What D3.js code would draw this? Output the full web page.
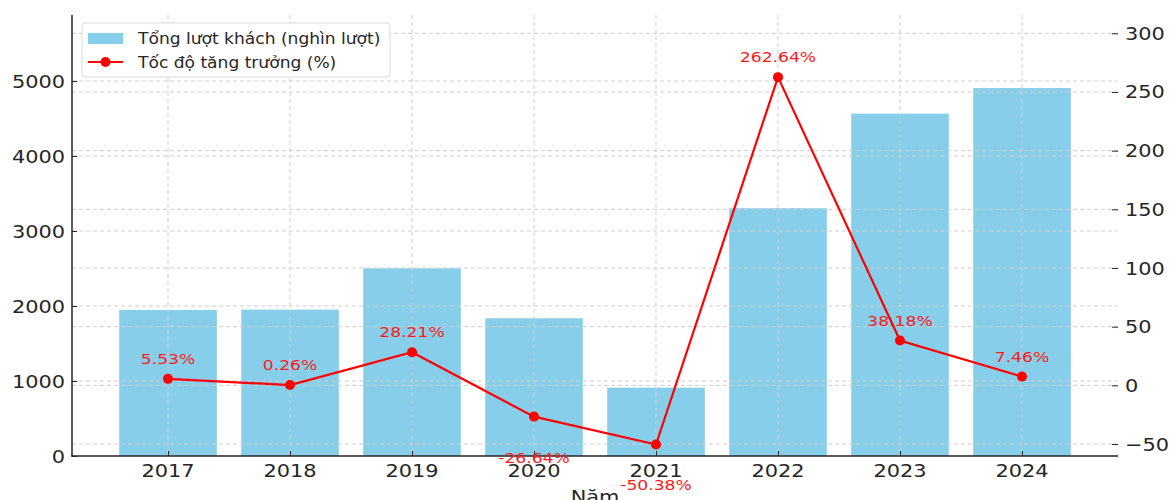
<!DOCTYPE html>
<html>
<head>
<meta charset="UTF-8">
<title>Tổng lượt khách và tốc độ tăng trưởng</title>
<script src="https://d3js.org/d3.v7.min.js"></script>
<style>
  body { margin: 0; background: #fff; }
  svg { display: block; font-family: "DejaVu Sans", sans-serif; }
  .grid line { stroke: #cfcfcf; stroke-width: 1; stroke-dasharray: 4 3; }
</style>
</head>
<body>
<script>
// data
var years = ["2017", "2018", "2019", "2020", "2021", "2022", "2023", "2024"];
var visitors = [1947, 1952, 2503, 1836, 911, 3304, 4565, 4906];   // nghìn lượt
var growth = [5.53, 0.26, 28.21, -26.64, -50.38, 262.64, 38.18, 7.46]; // %
var leftTicks = [0, 1000, 2000, 3000, 4000, 5000];
var rightTicks = [-50, 0, 50, 100, 150, 200, 250, 300];

var W = 1169, H = 500;
// plot box (note: "top" is reserved on window, so use p* names)
var pLeft = 72, pRight = 1118, pTop = 15, pBottom = 456;
var sx = 1.16; // the reference text is a little wider than tall

var svg = d3.select("body").append("svg")
  .attr("width", W).attr("height", H);

var x = d3.scalePoint().domain(years).range([pLeft, pRight]).padding(0.787);
var barW = x.step() * 0.8;
var y = d3.scaleLinear().domain([0, 5880]).range([pBottom, pTop]);
var y2 = d3.scaleLinear().domain([-60.2, 315.6]).range([pBottom, pTop]);

// text helper, stretched horizontally like the picture
function label(g, px, py, txt, size, anchor, color, stretch) {
  return g.append("text")
    .attr("transform", "translate(" + px + "," + py + ") scale(" + (stretch || sx) + ",1)")
    .attr("text-anchor", anchor)
    .attr("font-size", size)
    .attr("fill", color)
    .text(txt);
}

// bars
svg.append("g").selectAll("rect")
  .data(visitors)
  .join("rect")
    .attr("x", function(d, i) { return x(years[i]) - barW / 2; })
    .attr("width", barW)
    .attr("y", function(d) { return y(d); })
    .attr("height", function(d) { return pBottom - y(d); })
    .attr("fill", "#87ceeb");

// grid on top of bars (both y axes + x)
var grid = svg.append("g").attr("class", "grid");
grid.append("g").selectAll("line").data(leftTicks).join("line")
  .attr("x1", pLeft).attr("x2", pRight)
  .attr("y1", function(d) { return y(d); }).attr("y2", function(d) { return y(d); });
grid.append("g").selectAll("line").data(rightTicks).join("line")
  .attr("x1", pLeft).attr("x2", pRight)
  .attr("y1", function(d) { return y2(d); }).attr("y2", function(d) { return y2(d); });
grid.append("g").selectAll("line").data(years).join("line")
  .attr("x1", function(d) { return x(d); }).attr("x2", function(d) { return x(d); })
  .attr("y1", pTop).attr("y2", pBottom);

// axes
var axisColor = "#262626";
var gl = svg.append("g").attr("transform", "translate(" + pLeft + ",0)")
  .call(d3.axisLeft(y).tickValues(leftTicks).tickSize(-5).tickFormat(function(d) { return ""; }));
gl.select(".domain").remove();
gl.selectAll("line").attr("stroke", axisColor);
svg.append("line").attr("x1", pLeft).attr("x2", pLeft).attr("y1", pTop).attr("y2", pBottom + 0.5)
  .attr("stroke", axisColor).attr("stroke-width", 1.5);

var gr = svg.append("g").attr("transform", "translate(" + pRight + ",0)")
  .call(d3.axisRight(y2).tickValues(rightTicks).tickSize(-6).tickFormat(function(d) { return ""; }));
gr.select(".domain").remove();
gr.selectAll("line").attr("stroke", axisColor);

var gb = svg.append("g").attr("transform", "translate(0," + pBottom + ")")
  .call(d3.axisBottom(x).tickSize(-5).tickFormat(function(d) { return ""; }));
gb.select(".domain").remove();
gb.selectAll("line").attr("stroke", axisColor);
svg.append("line").attr("x1", pLeft - 0.75).attr("x2", pRight).attr("y1", pBottom).attr("y2", pBottom)
  .attr("stroke", axisColor).attr("stroke-width", 1.5);

var tl = svg.append("g");
leftTicks.forEach(function(d) { label(tl, pLeft - 7, y(d) + 6.5, d, 18, "end", axisColor); });
rightTicks.forEach(function(d) {
  label(tl, pRight + 7, y2(d) + 6.5, d < 0 ? "\u2212" + Math.abs(d) : d, 18, "start", axisColor);
});
years.forEach(function(d) { label(tl, x(d), pBottom + 21, d, 18, "middle", axisColor); });
label(tl, (pLeft + pRight) / 2, 503, "Năm", 18, "middle", axisColor);

// growth line
var line = d3.line()
  .x(function(d, i) { return x(years[i]); })
  .y(function(d) { return y2(d); });
svg.append("path")
  .attr("d", line(growth))
  .attr("fill", "none").attr("stroke", "#ff0000").attr("stroke-width", 2.2);
svg.append("g").selectAll("circle").data(growth).join("circle")
  .attr("cx", function(d, i) { return x(years[i]); })
  .attr("cy", function(d) { return y2(d); })
  .attr("r", 5).attr("fill", "#ff0000");

var al = svg.append("g");
growth.forEach(function(d, i) {
  var py = d >= 0 ? y2(d) - 15 : y2(d) + 46;
  label(al, x(years[i]), py, d.toFixed(2) + "%", 14.8, "middle", "#ff1a1a");
});

// legend
var lg = svg.append("g");
lg.append("rect").attr("x", 82).attr("y", 23).attr("width", 308).attr("height", 54)
  .attr("rx", 3).attr("fill", "#fff").attr("fill-opacity", 0.9)
  .attr("stroke", "#d9d9d9").attr("stroke-width", 1);
lg.append("rect").attr("x", 88).attr("y", 33).attr("width", 35).attr("height", 11).attr("fill", "#87ceeb");
lg.append("line").attr("x1", 88).attr("x2", 123).attr("y1", 62).attr("y2", 62)
  .attr("stroke", "#ff0000").attr("stroke-width", 2.2);
lg.append("circle").attr("cx", 105.5).attr("cy", 62).attr("r", 5).attr("fill", "#ff0000");
label(lg, 138, 44, "Tổng lượt khách (nghìn lượt)", 15.4, "start", axisColor, 1.11);
label(lg, 138, 68, "Tốc độ tăng trưởng (%)", 15.4, "start", axisColor, 1.11);
</script>
</body>
</html>
